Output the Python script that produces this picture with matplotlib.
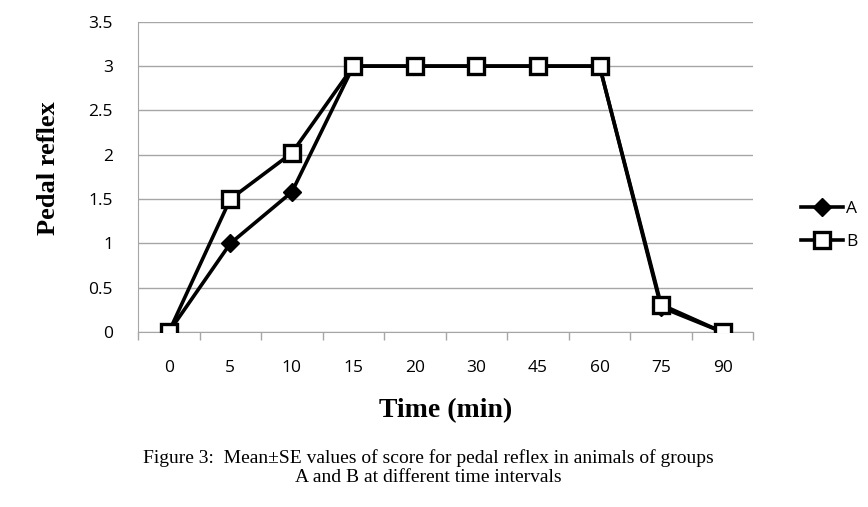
import matplotlib
matplotlib.use("Agg")
import matplotlib.pyplot as plt
import numpy as np

# data
time_labels = ["0", "5", "10", "15", "20", "30", "45", "60", "75", "90"]
group_a = [0, 1.0, 1.58, 3, 3, 3, 3, 3, 0.28, 0]
group_b = [0, 1.5, 2.02, 3, 3, 3, 3, 3, 0.31, 0]
y_ticks = [0, 0.5, 1, 1.5, 2, 2.5, 3, 3.5]
y_tick_labels = ["0", "0.5", "1", "1.5", "2", "2.5", "3", "3.5"]

GRID = "#a6a6a6"

fig = plt.figure(figsize=(8.68, 5.07), dpi=100)
ax = fig.add_axes([0.159, 0.345, 0.709, 0.612])

x = np.arange(len(time_labels))
ax.plot(x, group_a, color="black", lw=2.6, marker="D", ms=9,
        mfc="black", mec="black", label="A", zorder=3)
ax.plot(x, group_b, color="black", lw=2.6, marker="s", ms=12,
        mfc="white", mec="black", mew=2.4, label="B", zorder=4)

ax.set_xlim(-0.5, len(time_labels) - 0.5)
ax.set_ylim(0, 3.5)
ax.set_yticks(y_ticks)
ax.set_yticklabels(y_tick_labels, fontsize=12.5, family="Open Sans")
ax.yaxis.grid(True, color=GRID, lw=1)
ax.set_axisbelow(True)
ax.tick_params(axis="y", length=0, pad=18)

# category labels centred, ticks on the boundaries
ax.set_xticks(x)
ax.set_xticklabels(time_labels, fontsize=12.5, family="Open Sans")
ax.set_xticks(np.arange(-0.5, len(time_labels)), minor=True)
ax.tick_params(axis="x", which="major", length=0, pad=20)
ax.tick_params(axis="x", which="minor", length=6, color=GRID, width=1)

for side in ["top", "right"]:
    ax.spines[side].set_visible(False)
ax.spines["left"].set_color(GRID)
ax.spines["bottom"].set_color(GRID)

ax.set_xlabel("Time (min)", fontsize=20, fontweight="bold",
              family="Liberation Serif", labelpad=16)
ax.set_ylabel("Pedal reflex", fontsize=19, fontweight="bold",
              family="Liberation Serif")
ax.yaxis.set_label_coords(-0.126, 0.53)

ax.legend(loc="center left", bbox_to_anchor=(0.905, 0.555),
          bbox_transform=fig.transFigure, frameon=False,
          prop={"family": "Open Sans", "size": 12.5},
          handlelength=2.4, handletextpad=0.2, labelspacing=1.0)

fig.text(0.493, 0.077, "Figure 3:  Mean\u00b1SE values of score for pedal reflex in animals of groups\n"
         "A and B at different time intervals", ha="center", va="center",
         fontsize=14, family="Liberation Serif", linespacing=1.15)

fig.savefig("out.png", dpi=100)
